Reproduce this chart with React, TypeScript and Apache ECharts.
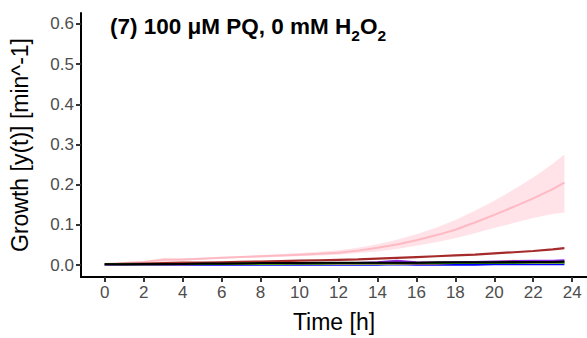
import React, { useEffect, useRef } from "react";
import * as echarts from "echarts";

const times = [0, 1, 2, 3, 4, 5, 6, 7, 8, 9, 10, 11, 12, 13, 14, 15, 16, 17, 18, 19, 20, 21, 22, 23, 23.6];

const pinkMean = [0.003, 0.005, 0.008, 0.013, 0.014, 0.016, 0.018, 0.02, 0.022, 0.024, 0.026, 0.028, 0.031, 0.036, 0.043, 0.051, 0.062, 0.074, 0.088, 0.106, 0.125, 0.145, 0.166, 0.189, 0.205];
const pinkUpper = [0.004, 0.006, 0.01, 0.018, 0.017, 0.018, 0.02, 0.022, 0.025, 0.027, 0.03, 0.033, 0.037, 0.043, 0.052, 0.063, 0.077, 0.093, 0.112, 0.135, 0.16, 0.188, 0.218, 0.252, 0.275];
const pinkLower = [0.002, 0.004, 0.006, 0.008, 0.011, 0.014, 0.016, 0.018, 0.019, 0.021, 0.022, 0.024, 0.026, 0.03, 0.034, 0.04, 0.048, 0.057, 0.067, 0.079, 0.092, 0.105, 0.117, 0.127, 0.131];
const darkRed = [0.002, 0.003, 0.004, 0.005, 0.006, 0.006, 0.007, 0.008, 0.009, 0.01, 0.011, 0.012, 0.013, 0.014, 0.016, 0.018, 0.02, 0.022, 0.024, 0.026, 0.029, 0.032, 0.035, 0.039, 0.042];
const blackLine = [0.002, 0.002, 0.003, 0.003, 0.003, 0.004, 0.004, 0.004, 0.005, 0.005, 0.005, 0.006, 0.006, 0.006, 0.006, 0.006, 0.006, 0.007, 0.007, 0.007, 0.007, 0.008, 0.008, 0.008, 0.009];
const greenLine = [0.003, 0.002, 0.002, 0.003, 0.003, 0.003, 0.003, 0.004, 0.004, 0.004, 0.004, 0.004, 0.005, 0.005, 0.005, 0.005, 0.005, 0.005, 0.006, 0.006, 0.006, 0.006, 0.007, 0.007, 0.007];
const oliveLine = [0.002, 0.002, 0.002, 0.002, 0.003, 0.003, 0.003, 0.003, 0.003, 0.003, 0.004, 0.004, 0.004, 0.004, 0.004, 0.004, 0.005, 0.005, 0.005, 0.005, 0.005, 0.006, 0.006, 0.006, 0.006];
const orangeLine = [0.002, 0.002, 0.002, 0.002, 0.002, 0.003, 0.003, 0.003, 0.003, 0.003, 0.003, 0.003, 0.004, 0.004, 0.004, 0.004, 0.004, 0.004, 0.005, 0.005, 0.007, 0.011, 0.008, 0.007, 0.008];
const purpleLine = [0.001, 0.001, 0.001, 0.002, 0.002, 0.002, 0.002, 0.003, 0.003, 0.003, 0.003, 0.004, 0.004, 0.005, 0.007, 0.011, 0.007, 0.006, 0.007, 0.008, 0.009, 0.01, 0.011, 0.011, 0.012];
const blueLine = [0.0, 0.0, 0.0, 0.0, 0.001, 0.001, 0.001, 0.001, 0.001, 0.001, 0.001, 0.001, 0.001, 0.001, 0.001, 0.002, 0.001, 0.001, 0.001, 0.001, 0.002, 0.002, 0.002, 0.002, 0.002];

const xTicks = [0, 2, 4, 6, 8, 10, 12, 14, 16, 18, 20, 22, 24];
const yTicks = [0, 0.1, 0.2, 0.3, 0.4, 0.5, 0.6];

const pairs = (vals: number[]) => times.map((t, i) => [t, vals[i]]);

export default function App() {
  const ref = useRef<HTMLDivElement>(null);
  useEffect(() => {
    if (!ref.current) return;
    const chart = echarts.init(ref.current, undefined, { renderer: "svg" });
    const font = "'Liberation Sans', Arial, sans-serif";
    const line = (name: string, vals: number[], color: string, width = 2, z = 3) => ({
      name,
      type: "line",
      data: pairs(vals),
      showSymbol: false,
      symbol: "none",
      lineStyle: { color, width },
      z,
    });
    chart.setOption({
      animation: false,
      grid: { left: 76, top: 13, right: 0, bottom: 59, containLabel: false },
      xAxis: {
        type: "value",
        min: -1.22,
        max: 24.76,
        name: "Time [h]",
        nameLocation: "middle",
        nameGap: 33,
        nameTextStyle: { fontFamily: font, fontSize: 23, color: "#000" },
        axisLine: { show: true, onZero: false, lineStyle: { color: "#000", width: 2 } },
        axisTick: { show: true, length: 5, lineStyle: { color: "#333", width: 2 }, customValues: xTicks },
        axisLabel: { fontFamily: font, fontSize: 17, color: "#4D4D4D", margin: 7, customValues: xTicks },
        splitLine: { show: false },
      },
      yAxis: {
        type: "value",
        min: -0.0296,
        max: 0.627,
        name: "Growth [y(t)] [min^-1]",
        nameLocation: "middle",
        nameGap: 50,
        nameTextStyle: { fontFamily: font, fontSize: 23, color: "#000" },
        axisLine: { show: true, onZero: false, lineStyle: { color: "#000", width: 2 } },
        axisTick: { show: true, length: 5, lineStyle: { color: "#333", width: 2 }, customValues: yTicks },
        axisLabel: {
          fontFamily: font,
          fontSize: 17,
          color: "#4D4D4D",
          margin: 7,
          customValues: yTicks,
          formatter: (v: number) => v.toFixed(1),
        },
        splitLine: { show: false },
      },
      graphic: [
        {
          type: "text",
          left: 110,
          top: 15,
          style: {
            text: "{n|(7) 100 μM PQ, 0 mM H}{s|2}{n|O}{s|2}",
            rich: {
              n: { fontFamily: font, fontSize: 22.5, fontWeight: "bold", fill: "#000", lineHeight: 26, verticalAlign: "bottom" },
              s: { fontFamily: font, fontSize: 15.5, fontWeight: "bold", fill: "#000", lineHeight: 18, verticalAlign: "bottom", padding: [0, 0, -5, 0] },
            },
          },
        },
      ],
      series: [
        {
          name: "band",
          type: "custom",
          data: [[0]],
          z: 1,
          renderItem: (_params: any, api: any) => {
            const pts: number[][] = [];
            for (let i = 0; i < times.length; i++) pts.push(api.coord([times[i], pinkUpper[i]]));
            for (let i = times.length - 1; i >= 0; i--) pts.push(api.coord([times[i], pinkLower[i]]));
            return {
              type: "polygon",
              shape: { points: pts },
              style: { fill: "rgba(255,192,203,0.45)", stroke: "none" },
            };
          },
        },
        line("pink", pinkMean, "rgba(255,182,193,0.95)", 2, 2),
        line("darkred", darkRed, "#A52A2A", 2.2, 3),
        line("blue", blueLine, "#0000FF", 2, 3),
        line("orange", orangeLine, "#FFA500", 2, 3),
        line("purple", purpleLine, "#8A2BE2", 2, 3),
        line("olive", oliveLine, "#9ACD32", 2, 3),
        line("green", greenLine, "#006400", 2, 3),
        line("black", blackLine, "#000000", 2, 4),
      ],
    });
    return () => chart.dispose();
  }, []);
  return <div ref={ref} style={{ width: 587, height: 338, position: "absolute", left: 0, top: 0 }} />;
}
